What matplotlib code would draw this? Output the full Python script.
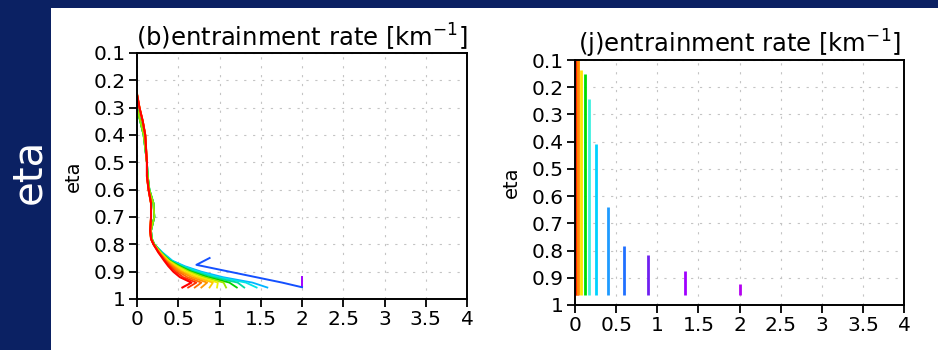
import numpy as np
import matplotlib.pyplot as plt
from matplotlib.patches import Rectangle

# ---- data ----
# (b) left panel: profiles of entrainment rate vs eta
upper_eta = [0.25, 0.3, 0.35, 0.4, 0.45, 0.5, 0.55, 0.6, 0.65, 0.7, 0.75, 0.78]
upper_x_warm = [0.0, 0.03, 0.07, 0.10, 0.11, 0.12, 0.12, 0.14, 0.17, 0.17, 0.16, 0.17]
upper_x_cool = [np.nan, 0.0, 0.04, 0.08, 0.10, 0.12, 0.13, 0.15, 0.20, 0.21, 0.17, 0.18]

lower_eta = [0.8, 0.83, 0.86, 0.88, 0.9, 0.92, 0.94, 0.958]
lower_x = [
    [0.20, 0.26, 0.33, 0.38, 0.44, 0.52, 0.66, 0.55],
    [0.20, 0.26, 0.34, 0.40, 0.47, 0.56, 0.72, 0.62],
    [0.20, 0.27, 0.35, 0.42, 0.50, 0.61, 0.78, 0.70],
    [0.20, 0.27, 0.36, 0.44, 0.53, 0.66, 0.85, 0.78],
    [0.20, 0.28, 0.37, 0.46, 0.56, 0.71, 0.92, 0.88],
    [0.20, 0.28, 0.38, 0.48, 0.60, 0.76, 0.98, 0.97],
    [0.21, 0.29, 0.39, 0.50, 0.63, 0.81, 1.05, 1.08],
    [0.21, 0.29, 0.40, 0.52, 0.66, 0.86, 1.12, 1.21],
    [0.21, 0.30, 0.41, 0.54, 0.70, 0.92, 1.22, 1.30],
    [0.21, 0.30, 0.42, 0.56, 0.74, 0.98, 1.32, 1.45],
    [0.21, 0.31, 0.43, 0.58, 0.78, 1.04, 1.40, 1.58],
]
line_colors = ["#ff0000", "#ff3200", "#ff6e00", "#ff9600", "#ffc800", "#f0f000",
               "#a0e600", "#00d200", "#00dca0", "#00e6e6", "#00b4ff"]
n_warm = 6  # first lines share the warm upper profile

blue_eta = [0.85, 0.875, 0.9, 0.92, 0.94, 0.957]
blue_x = [0.88, 0.72, 1.12, 1.44, 1.76, 2.0]
purple_eta = [0.92, 0.957]
purple_x = [2.0, 2.0]

# (j) right panel: vertical bars
bar_x = [0.0, 0.02, 0.04, 0.07, 0.12, 0.175, 0.26, 0.40, 0.59, 0.89, 1.34, 2.0]
bar_top = [0.1, 0.1, 0.1, 0.135, 0.151, 0.243, 0.409, 0.641, 0.784, 0.816, 0.874, 0.922]
bar_bottom = 0.963
bar_colors = ["#ff0000", "#ff2800", "#ff8c00", "#ffe600", "#00dc00", "#40f0e0",
              "#00d2ff", "#1e9bff", "#2070ff", "#7020f0", "#a000ff", "#b400f0"]

yticks = [0.1, 0.2, 0.3, 0.4, 0.5, 0.6, 0.7, 0.8, 0.9, 1.0]
ytick_labels = ["0.1", "0.2", "0.3", "0.4", "0.5", "0.6", "0.7", "0.8", "0.9", "1"]
xticks = [0, 0.5, 1, 1.5, 2, 2.5, 3, 3.5, 4]
xtick_labels = ["0", "0.5", "1", "1.5", "2", "2.5", "3", "3.5", "4"]


def style_axis(ax, title):
    ax.set_xlim(0, 4)
    ax.set_ylim(1, 0.1)
    ax.set_yticks(yticks)
    ax.set_yticklabels(ytick_labels)
    ax.set_xticks(xticks)
    ax.set_xticklabels(xtick_labels)
    ax.tick_params(axis="both", labelsize=14.5, length=6, width=1.3, pad=2)
    for spine in ax.spines.values():
        spine.set_linewidth(1.4)
    ax.grid(True, color="#c4c4c4", linestyle=(0, (2, 6)), linewidth=0.8)
    ax.set_axisbelow(True)
    ax.set_ylabel("eta", fontsize=14, labelpad=8)
    ax.set_title(title, fontsize=17.5, pad=4)


fig = plt.figure(figsize=(9.38, 3.5), dpi=100)
fig.patch.set_facecolor("#0b2163")
fig.patches.append(Rectangle((51 / 938, 0), 1 - 51 / 938, 1 - 8 / 350,
                             transform=fig.transFigure, facecolor="white",
                             edgecolor="none", zorder=-10))
fig.text(0.031, 0.51, "eta", color="white", fontsize=29, rotation=90,
         ha="center", va="center")

ax1 = fig.add_axes([137 / 938, 1 - 299 / 350, 330 / 938, 246 / 350])
ax2 = fig.add_axes([575 / 938, 1 - 305 / 350, 329 / 938, 245 / 350])

# left panel: draw cool lines first so red ends up on top
ax1.plot(purple_x, purple_eta, color="#a000ff", lw=1.4)
ax1.plot(blue_x, blue_eta, color="#1450ff", lw=1.4)
for i in range(len(lower_x) - 1, -1, -1):
    up = upper_x_warm if i < n_warm else upper_x_cool
    xs = list(up) + lower_x[i]
    ys = upper_eta + lower_eta
    ax1.plot(xs, ys, color=line_colors[i], lw=1.5 if i == 0 else 1.3)
style_axis(ax1, "(b)entrainment rate [km$^{-1}$]")

# right panel
for x, top, c in zip(bar_x, bar_top, bar_colors):
    ax2.plot([x, x], [bar_bottom, top], color=c, lw=2.0, solid_capstyle="butt")
style_axis(ax2, "(j)entrainment rate [km$^{-1}$]")

fig.savefig("out.png", dpi=100, facecolor=fig.get_facecolor())
